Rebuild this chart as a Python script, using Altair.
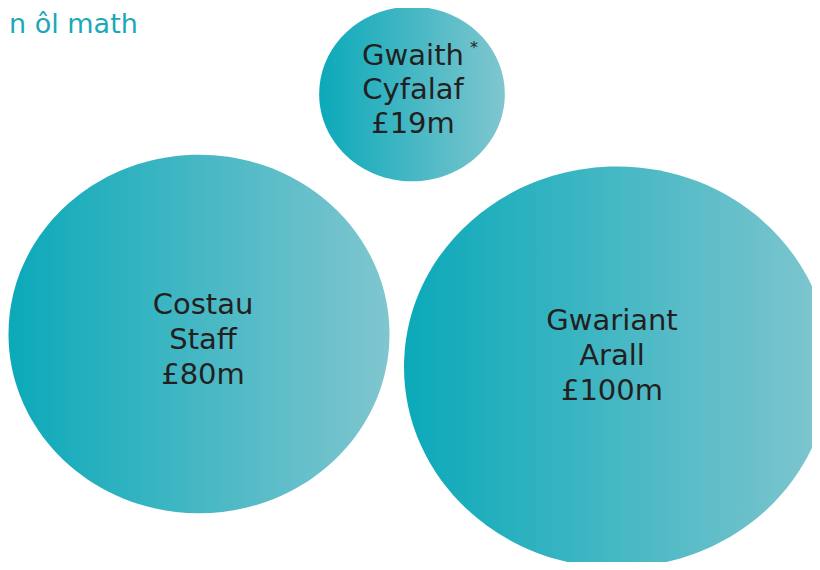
import altair as alt
import pandas as pd

# data
categories = ["Gwaith Cyfalaf", "Costau Staff", "Gwariant Arall"]
values_m = [19, 80, 100]
footnote = ["*", "", ""]
title_text = "n ôl math"

# layout (bubble centres and label anchors, in pixels of the picture)
cx = [412, 199, 617]
cy = [94, 334, 367]
label_x = [413, 203, 612]
label_y = [65, 314, 330]

rows = []
for i, c in enumerate(categories):
    rows.append({
        "cat": c,
        "value": values_m[i],
        "cx": cx[i], "cy": cy[i],
        "lx": label_x[i], "ly": label_y[i],
        "label": "\n".join(c.split(" ") + [f"£{values_m[i]}m"]),
        "note": footnote[i],
    })
df = pd.DataFrame(rows)

W, H = 804, 554
xs = alt.Scale(domain=[8, 8 + W], range=[0, W], zero=False, nice=False)
ys = alt.Scale(domain=[8, 8 + H], range=[0, H], zero=False, nice=False)

grad = alt.LinearGradient(
    gradient="linear",
    stops=[alt.GradientStop(color="#0ba9b9", offset=0),
           alt.GradientStop(color="#80c6cf", offset=1)],
    x1=0, x2=1, y1=0, y2=0,
)

ellipse = "M-1,0A1,0.941,0,1,1,1,0A1,0.941,0,1,1,-1,0Z"

base = alt.Chart(df)

bubbles = base.mark_point(filled=True, fill=grad, opacity=1, strokeWidth=0, shape=ellipse).encode(
    x=alt.X("cx:Q", scale=xs, axis=None),
    y=alt.Y("cy:Q", scale=ys, axis=None),
    size=alt.Size("value:Q", scale=alt.Scale(domain=[0, 100], range=[0, 181476]), legend=None),
)

labels_big = base.transform_filter("datum.cat != 'Gwaith Cyfalaf'").mark_text(
    font="DejaVu Sans", fontSize=29, color="#231f20", align="center",
    baseline="alphabetic", lineBreak="\n", lineHeight=35,
).encode(x=alt.X("lx:Q", scale=xs), y=alt.Y("ly:Q", scale=ys), text="label:N")

labels_small = base.transform_filter("datum.cat == 'Gwaith Cyfalaf'").mark_text(
    font="DejaVu Sans", fontSize=29, color="#231f20", align="center",
    baseline="alphabetic", lineBreak="\n", lineHeight=34,
).encode(x=alt.X("lx:Q", scale=xs), y=alt.Y("ly:Q", scale=ys), text="label:N")

notes = base.transform_filter("datum.note != ''").transform_calculate(
    nx="datum.lx + 61", ny="datum.ly - 12"
).mark_text(font="DejaVu Sans", fontSize=16, color="#231f20", align="center", baseline="alphabetic").encode(
    x=alt.X("nx:Q", scale=xs), y=alt.Y("ny:Q", scale=ys), text="note:N"
)

title = alt.Chart(pd.DataFrame({"t": [title_text], "x": [9], "y": [33]})).mark_text(
    font="DejaVu Sans", fontSize=27, color="#1ba8b8", align="left", baseline="alphabetic"
).encode(x=alt.X("x:Q", scale=xs), y=alt.Y("y:Q", scale=ys), text="t:N")

chart = alt.layer(bubbles, labels_big, labels_small, notes, title).properties(
    width=W, height=H, padding=0, autosize=alt.AutoSizeParams(type="none")
).configure_view(stroke=None)

chart.save("out.html", embed_options={"renderer": "svg", "actions": False})
